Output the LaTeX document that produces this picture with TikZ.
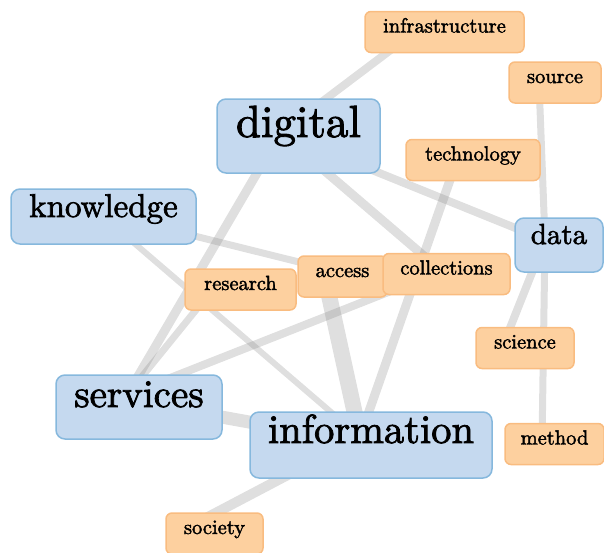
\documentclass[tikz,border=0pt]{standalone}
\usepackage{fontspec}
\newfontfamily\wordfont{lmroman10-regular}[Extension=.otf,FakeBold=2]
\usetikzlibrary{backgrounds}
\definecolor{topicfill}{HTML}{C5D9EF}
\definecolor{topicline}{HTML}{86B8DD}
\definecolor{termfill}{HTML}{FDD09F}
\definecolor{termline}{HTML}{F9BC80}
\tikzstyle{topic}=[rectangle,rounded corners=9pt,fill=topicfill,draw=topicline,line width=1.5pt,inner sep=0pt]
\tikzstyle{term}=[rectangle,rounded corners=6pt,fill=termfill,draw=termline,line width=1.5pt,inner sep=0pt,text height=21pt,text depth=20pt,font=\wordfont\fontsize{20.5}{24}\selectfont]
\tikzstyle{link}=[draw,black!50,opacity=0.25]

\begin{document}
\begin{tikzpicture}[x=1pt,y=-1pt]
    \useasboundingbox (0,0) rectangle (604,552);

    % First the big words
    \foreach \pos/\name/\bw/\tp/\bt/\fs in {{(298.5,136)/digital/163/38/36/45}, {(103.5,216.5)/knowledge/185/28/27/33},
        {(559,245)/data/88/26/28/29}, {(139,407)/services/166/32/32/39}, {(371,445)/information/242/31/35/40.5}}
        \node[topic,minimum width=\bw pt,text height=\tp pt,text depth=\bt pt,font=\wordfont\fontsize{\fs}{\fs}\selectfont] (\name) at \pos {\name};

    % Then the small ones
    \foreach \pos/\name/\bw in {{(444.5,32)/infrastructure/159}, {(555,82.5)/source/92}, {(473,160)/technology/134},
        {(240.5,289.5)/research/111}, {(342.5,276.5)/access/89}, {(446.5,274)/collections/127},
        {(525,348)/science/98}, {(554.5,444)/method/99}, {(214.5,533.5)/society/97}}
        \node[term,minimum width=\bw pt] (\name) at \pos {\name};

    % Links behind the words
    \begin{pgfonlayer}{background}
    \foreach \a/\ax/\ay/\b/\bx/\by/\lw in {infrastructure/-30/0/digital/-18/-3/8, source/-16/0/data/-14/-5/7,
        digital/-18/-3/data/-14/-5/8, digital/-18/-3/collections/-5/-3/9, digital/-18/-3/services/-12/-12/9,
        knowledge/-5.5/-4.5/access/-19.5/-8.5/7, knowledge/-5.5/-4.5/information/-11/-8/6,
        technology/-16/0/information/-11/-8/9, access/-19.5/-8.5/information/-11/-8/16,
        services/-12/-12/collections/-5/-3/8, services/-12/-7/information/-11/-3/13,
        research/-28/0/services/-12/-12/7, information/-11/-8/society/-38/0/10,
        data/-14/-5/science/-23/0/8, data/-14/-5/method/-12.5/0/7}
        \path[link,line width=\lw pt] ([shift={(\ax,\ay)}]\a.center) -- ([shift={(\bx,\by)}]\b.center);
    \end{pgfonlayer}

\end{tikzpicture}
\end{document}
